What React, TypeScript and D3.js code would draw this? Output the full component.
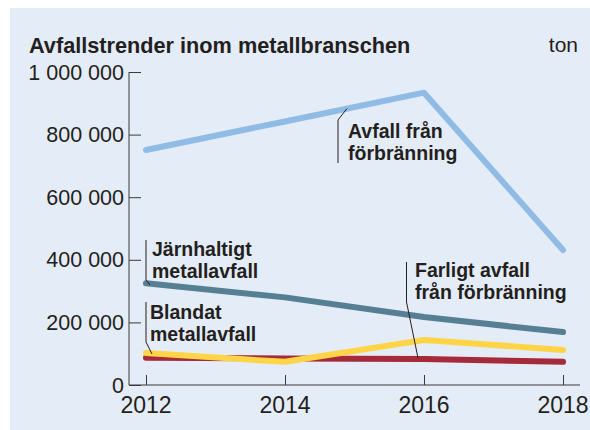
import React, { useEffect, useRef } from 'react';
import * as d3 from 'd3';

const years = [2012, 2014, 2016, 2018];
const yTicks = [0, 200000, 400000, 600000, 800000, 1000000];

const avfallForbranning = [751000, 842000, 934000, 431000];
const jarnhaltigt = [325000, 280000, 217000, 169000];
const farligtAvfall = [102000, 74000, 144000, 112000];
const blandat = [87000, 85000, 83000, 74000];

const seriesNames = [
  'Avfall från förbränning',
  'Järnhaltigt metallavfall',
  'Farligt avfall från förbränning',
  'Blandat metallavfall',
];
const seriesColors = ['#8fbbe4', '#567f93', '#a52a3a', '#ffd447'];

const fmt = (v: number) => d3.format(',')(v).replace(/,/g, ' ');

const App: React.FC = () => {
  const ref = useRef<SVGSVGElement>(null);

  useEffect(() => {
    document.body.style.margin = '0';
    if (!ref.current) return;
    d3.select(ref.current).selectAll('*').remove();

    const svg = d3.select(ref.current);
    const ink = '#231f20';
    const labelFont = '"Liberation Sans Narrow", "Liberation Sans", Arial, sans-serif';
    const tickFont = '"Liberation Sans", Arial, sans-serif';

    // background panel
    svg.append('rect')
      .attr('x', 10).attr('y', 8)
      .attr('width', 590).attr('height', 430)
      .attr('fill', '#e4ecf7');

    const x = d3.scaleLinear().domain([2012, 2018]).range([146, 563]);
    const y = d3.scaleLinear().domain([0, 1000000]).range([385, 72]);

    // title
    svg.append('text')
      .attr('x', 29).attr('y', 53)
      .attr('font-family', labelFont)
      .attr('font-weight', 'bold')
      .attr('font-size', 21.7)
      .attr('fill', ink)
      .text('Avfallstrender inom metallbranschen');

    svg.append('text')
      .attr('x', 578).attr('y', 52)
      .attr('text-anchor', 'end')
      .attr('font-family', tickFont)
      .attr('font-size', 21)
      .attr('fill', ink)
      .text('ton');

    // y axis
    const yAxis = svg.append('g')
      .attr('transform', 'translate(129,0)')
      .call(d3.axisRight(y).tickValues(yTicks).tickSize(12).tickFormat(() => ''));
    yAxis.select('.domain').attr('stroke', '#3a3a3a').attr('d', `M0,${y(1000000)}V${y(0)}`);
    yAxis.selectAll('.tick line').attr('stroke', '#3a3a3a');

    svg.append('g')
      .selectAll('text')
      .data(yTicks)
      .enter().append('text')
      .attr('x', 124)
      .attr('y', d => y(d) + 7.5)
      .attr('text-anchor', 'end')
      .attr('font-family', tickFont)
      .attr('font-size', 21.5)
      .attr('fill', ink)
      .text(d => fmt(d));

    // x axis
    const xAxis = svg.append('g')
      .attr('transform', `translate(0,${y(0)})`)
      .call(d3.axisTop(x).tickValues(years).tickSize(10).tickFormat(() => ''));
    xAxis.select('.domain').attr('stroke', '#3a3a3a').attr('d', 'M129,0H580');
    xAxis.selectAll('.tick line').attr('stroke', '#3a3a3a');

    svg.append('g')
      .selectAll('text')
      .data(years)
      .enter().append('text')
      .attr('x', d => x(d))
      .attr('y', 413)
      .attr('text-anchor', 'middle')
      .attr('font-family', tickFont)
      .attr('font-size', 23)
      .attr('fill', ink)
      .text(d => String(d));

    // lines
    const line = d3.line<number>()
      .x((_, i) => x(years[i]))
      .y(d => y(d));

    const drawOrder = [avfallForbranning, jarnhaltigt, blandat, farligtAvfall];
    svg.append('g')
      .selectAll('path')
      .data(drawOrder)
      .enter().append('path')
      .attr('d', d => line(d))
      .attr('fill', 'none')
      .attr('stroke', (_, i) => seriesColors[i])
      .attr('stroke-width', 6)
      .attr('stroke-linecap', 'round')
      .attr('stroke-linejoin', 'round');

    // leader lines
    const leaders = [
      [[347, 108.5], [338, 120], [338, 163]],
      [[146, 240], [146, 280], [150, 285]],
      [[146, 302], [146, 342], [152, 354]],
      [[406.5, 262], [406.5, 302], [418, 358]],
    ];
    svg.append('g')
      .selectAll('path')
      .data(leaders)
      .enter().append('path')
      .attr('d', d => d3.line()(d as [number, number][]))
      .attr('fill', 'none')
      .attr('stroke', ink)
      .attr('stroke-width', 1);

    // series labels
    const labels = [
      { lines: ['Avfall från', 'förbränning'], x: 348, y: 138 },
      { lines: ['Järnhaltigt', 'metallavfall'], x: 152, y: 256 },
      { lines: ['Farligt avfall', 'från förbränning'], x: 415, y: 277 },
      { lines: ['Blandat', 'metallavfall'], x: 150, y: 319 },
    ];
    const lab = svg.append('g')
      .selectAll('text')
      .data(labels)
      .enter().append('text')
      .attr('font-family', labelFont)
      .attr('font-weight', 'bold')
      .attr('font-size', 19.5)
      .attr('fill', ink)
      .attr('aria-label', (_, i) => seriesNames[i]);
    lab.selectAll('tspan')
      .data(d => d.lines.map((t, j) => ({ t, x: d.x, y: d.y + j * 21.5 })))
      .enter().append('tspan')
      .attr('x', d => d.x)
      .attr('y', d => d.y)
      .text(d => d.t);
  }, []);

  return <svg ref={ref} width={590} height={430} style={{ display: 'block', background: '#fff' }} />;
};

export default App;
